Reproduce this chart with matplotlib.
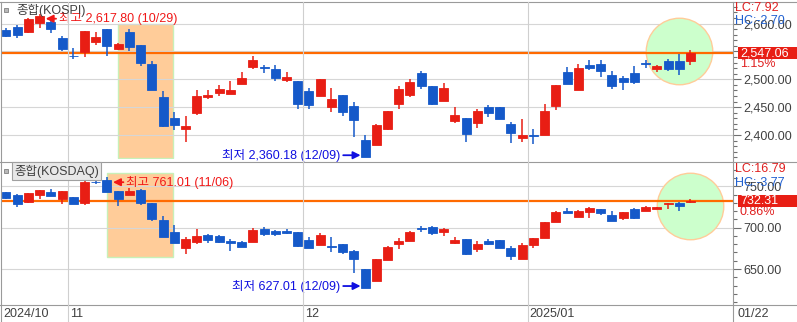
import numpy as np
import matplotlib
matplotlib.use("Agg")
import matplotlib.pyplot as plt
from matplotlib.patches import Rectangle
from matplotlib.lines import Line2D
from matplotlib.ticker import MultipleLocator, FuncFormatter
from matplotlib.transforms import offset_copy

plt.rcParams['font.family'] = ['Liberation Sans', 'Noto Sans CJK KR', 'DejaVu Sans']

# trading days 2024/10/24 .. 2025/01/22
dates = ['2024/10/24', '2024/10/25', '2024/10/28', '2024/10/29', '2024/10/30', '2024/10/31',
         '2024/11/01', '2024/11/04', '2024/11/05', '2024/11/06', '2024/11/07', '2024/11/08',
         '2024/11/11', '2024/11/12', '2024/11/13', '2024/11/14', '2024/11/15', '2024/11/18',
         '2024/11/19', '2024/11/20', '2024/11/21', '2024/11/22', '2024/11/25', '2024/11/26',
         '2024/11/27', '2024/11/28', '2024/11/29',
         '2024/12/02', '2024/12/03', '2024/12/04', '2024/12/05', '2024/12/06', '2024/12/09',
         '2024/12/10', '2024/12/11', '2024/12/12', '2024/12/13', '2024/12/16', '2024/12/17',
         '2024/12/18', '2024/12/19', '2024/12/20', '2024/12/23', '2024/12/24', '2024/12/26',
         '2024/12/27', '2024/12/30',
         '2025/01/02', '2025/01/03', '2025/01/06', '2025/01/07', '2025/01/08', '2025/01/09',
         '2025/01/10', '2025/01/13', '2025/01/14', '2025/01/15', '2025/01/16', '2025/01/17',
         '2025/01/20', '2025/01/21', '2025/01/22']

kospi_open = [2588.6, 2594.0, 2585.6, 2601.8, 2602.4, 2574.3, 2542.5, 2549.7, 2567.7, 2590.4,
              2555.1, 2585.0, 2561.7, 2527.5, 2468.3, 2431.1, 2411.4, 2439.5, 2468.3, 2476.0,
              2474.3, 2492.2, 2522.8, 2521.6, 2518.6, 2499.4, 2497.0, 2479.0, 2470.7, 2450.9,
              2471.9, 2452.1, 2391.0, 2382.6, 2411.4, 2456.3, 2472.5, 2512.0, 2488.0, 2461.7,
              2425.7, 2430.5, 2422.2, 2450.3, 2450.3, 2419.8, 2395.2, 2400.0, 2400.0, 2452.1,
              2513.8, 2480.8, 2525.1, 2527.5, 2507.8, 2502.4, 2511.4, 2529.3, 2519.2, 2532.9,
              2532.9, 2532.9]
kospi_high = [2591.6, 2597.6, 2609.6, 2617.80, 2606.6, 2578.4, 2556.9, 2587.5, 2584.4, 2590.9,
              2565.0, 2589.8, 2562.2, 2532.9, 2479.0, 2440.7, 2434.1, 2480.8, 2480.8, 2489.8,
              2497.6, 2512.6, 2541.9, 2525.1, 2525.7, 2513.2, 2497.5, 2484.4, 2501.0, 2484.4,
              2472.4, 2459.3, 2400.0, 2419.8, 2443.6, 2488.6, 2500.6, 2515.6, 2488.5, 2494.0,
              2450.3, 2431.0, 2447.3, 2454.5, 2450.8, 2423.4, 2429.3, 2410.2, 2455.1, 2490.3,
              2522.8, 2527.5, 2534.7, 2534.7, 2515.0, 2506.0, 2524.6, 2534.1, 2525.7, 2536.5,
              2546.1, 2552.7]
kospi_low = [2576.6, 2574.9, 2583.8, 2592.8, 2583.8, 2550.9, 2535.9, 2540.7, 2561.7, 2542.5,
             2553.0, 2551.5, 2524.6, 2480.2, 2414.4, 2409.0, 2388.0, 2436.5, 2464.7, 2470.1,
             2473.8, 2491.7, 2518.0, 2512.0, 2497.6, 2495.8, 2446.1, 2447.3, 2470.2, 2441.9,
             2434.1, 2397.0, 2360.18, 2382.1, 2409.6, 2447.3, 2468.9, 2483.2, 2454.5, 2461.2,
             2422.2, 2388.0, 2413.2, 2431.7, 2428.1, 2386.2, 2388.0, 2383.8, 2399.5, 2444.9,
             2491.1, 2480.3, 2516.8, 2504.8, 2483.2, 2480.8, 2491.6, 2519.8, 2513.8, 2515.6,
             2507.2, 2526.3]
kospi_close = [2578.4, 2580.2, 2608.4, 2614.4, 2591.0, 2553.9, 2541.9, 2586.8, 2576.0, 2560.5,
               2564.1, 2558.7, 2529.9, 2480.8, 2416.2, 2418.6, 2416.8, 2470.1, 2471.3, 2482.6,
               2480.8, 2502.4, 2534.1, 2519.8, 2503.0, 2504.2, 2455.1, 2454.5, 2500.6, 2464.7,
               2441.9, 2427.5, 2360.58, 2418.6, 2443.1, 2482.6, 2495.2, 2488.6, 2456.3, 2484.4,
               2435.9, 2402.4, 2442.5, 2440.1, 2428.7, 2404.2, 2400.6, 2397.6, 2443.1, 2489.8,
               2491.6, 2520.4, 2520.4, 2515.0, 2488.6, 2495.8, 2495.2, 2528.1, 2524.0, 2519.2,
               2518.03, 2547.06]

kosdaq_open = [742.7, 739.9, 730.6, 739.9, 743.5, 734.7, 736.7, 729.4, 755.8, 757.7,
               744.4, 739.9, 745.6, 729.8, 709.3, 694.8, 675.8, 683.1, 691.1, 689.9,
               684.3, 683.1, 683.1, 698.4, 696.0, 696.4, 694.8, 685.1, 679.4, 677.8,
               680.2, 672.2, 650.0, 635.9, 661.3, 680.6, 684.3, 700.0, 700.8, 695.2,
               681.9, 685.9, 674.6, 684.3, 685.1, 675.4, 662.1, 679.4, 687.5, 707.3,
               720.2, 713.3, 719.4, 722.6, 714.9, 712.1, 722.6, 720.6, 723.0, 728.6,
               730.2, 731.0]
kosdaq_high = [743.1, 740.3, 741.9, 745.6, 746.8, 744.3, 737.1, 756.9, 756.4, 761.01,
               744.8, 748.0, 746.4, 730.2, 714.5, 703.2, 689.1, 698.4, 692.7, 691.1,
               686.7, 683.5, 699.2, 701.2, 697.2, 698.4, 695.2, 688.7, 693.5, 689.1,
               680.6, 672.6, 650.4, 662.5, 677.8, 687.5, 696.4, 702.4, 701.6, 700.0,
               689.1, 686.7, 684.3, 686.7, 685.5, 677.4, 681.5, 687.9, 707.3, 720.2,
               723.4, 721.4, 725.0, 723.0, 720.6, 718.9, 724.2, 726.6, 725.0, 730.2,
               730.6, 734.3]
kosdaq_low = [735.1, 725.4, 730.2, 735.1, 738.3, 728.2, 728.6, 727.8, 753.4, 743.1,
              726.6, 739.5, 727.0, 708.1, 688.7, 681.0, 668.1, 680.6, 681.9, 681.9,
              672.2, 676.2, 682.7, 689.5, 689.5, 692.7, 677.0, 675.4, 679.0, 670.6,
              668.6, 644.8, 627.01, 635.5, 660.9, 674.6, 683.9, 695.2, 691.5, 690.3,
              679.8, 667.3, 670.6, 679.4, 675.0, 661.3, 661.7, 675.8, 687.1, 706.9,
              717.3, 712.5, 712.1, 715.3, 707.7, 709.7, 710.1, 720.2, 722.6, 723.0,
              720.6, 729.4]
kosdaq_close = [735.5, 728.2, 741.5, 745.2, 738.7, 743.9, 729.0, 755.2, 755.0, 743.5,
                734.3, 744.4, 729.4, 710.5, 689.1, 681.9, 685.9, 689.5, 685.5, 683.1,
                681.5, 676.6, 697.2, 692.7, 692.7, 694.0, 677.8, 675.8, 691.1, 677.0,
                671.0, 661.7, 627.5, 662.1, 676.6, 684.3, 694.8, 698.8, 694.0, 698.4,
                685.1, 668.1, 680.2, 679.8, 675.4, 666.1, 679.4, 687.5, 706.9, 719.4,
                717.7, 720.6, 724.2, 718.1, 708.1, 718.5, 711.3, 725.0, 724.6, 729.4,
                726.07, 732.31]

UP = '#e81e14'
DOWN = '#1559c9'
ORANGE = '#ff6a00'
GRID = '#d6d6d6'
FRAME = '#9a9a9a'
TXT = '#404040'

W, H = 797, 322
fig = plt.figure(figsize=(W / 100, H / 100), dpi=100)


def fx(px):
    return px / W


def fy(py):
    return 1 - py / H


def pbox(l, t, r, b):
    return [fx(l), fy(b), (r - l) / W, (b - t) / H]


ax1 = fig.add_axes(pbox(1, 2, 733, 158.5))
ax2 = fig.add_axes(pbox(1, 162, 733, 305))


def py_of(ax, v):
    return H - ax.transData.transform((0, v))[1]


def px_of(ax, i):
    return ax.transData.transform((i, 0))[0]


def candles(ax, o, h, l, c):
    o, h, l, c = map(np.asarray, (o, h, l, c))
    x = np.arange(len(o))
    col = np.where(c >= o, UP, DOWN)
    ax.vlines(x, l, h, colors=col, lw=1.1, zorder=3)
    ax.bar(x, np.abs(c - o), bottom=np.minimum(o, c), width=0.8,
           color=col, edgecolor=col, lw=0.6, zorder=4)


def price_fmt(ax, last):
    # the label under the current-price box is not shown
    def f(v, p):
        if abs(py_of(ax, v) - py_of(ax, last)) < 8:
            return ''
        return f'{v:,.2f}'
    return FuncFormatter(f)


month_starts = [i for i in range(1, len(dates)) if dates[i][:7] != dates[i - 1][:7]]

for ax, o, h, l, c, lims, step in [
        (ax1, kospi_open, kospi_high, kospi_low, kospi_close, (2357.9, 2638.8), 50),
        (ax2, kosdaq_open, kosdaq_high, kosdaq_low, kosdaq_close, (606.5, 779.4), 50)]:
    candles(ax, o, h, l, c)
    ax.set_xlim(-0.4456, 64.79)
    ax.set_ylim(*lims)
    ax.set_xticks([])
    ax.yaxis.tick_right()
    ax.yaxis.set_major_locator(MultipleLocator(step))
    ax.yaxis.set_minor_locator(MultipleLocator(10))
    ax.yaxis.set_major_formatter(price_fmt(ax, c[-1]))
    ax.tick_params(axis='y', which='major', length=6, width=0.8, color='#707070',
                   labelsize=9, labelcolor=TXT, pad=1.5)
    ax.tick_params(axis='y', which='minor', length=3, width=0.8, color='#707070')
    ax.grid(axis='y', color=GRID, lw=0.8, zorder=0)
    for s in ax.spines.values():
        s.set_visible(False)
    ax.axhline(c[-1], color=ORANGE, lw=1.6, zorder=2.5)

# highlight boxes and circles
ax1.add_patch(Rectangle((10, 2357.9), 4.9, 2599 - 2357.9, fc='#ffcc99', ec='#c8f0b8',
                        lw=1, zorder=1.5))
ax2.add_patch(Rectangle((9, 664.5), 5.9, 766 - 664.5, fc='#ffcc99', ec='#c8f0b8',
                        lw=1, zorder=1.5))
ax1.plot([60], [2550.9], marker='o', ms=47.9, mfc='#ccffcc', mec='#ffcc99', mew=1,
         zorder=2, clip_on=False)
ax2.plot([61], [726.8], marker='o', ms=47.9, mfc='#ccffcc', mec='#ffcc99', mew=1,
         zorder=2, clip_on=False)


def mark(ax, o, h, l, c, red='#f01818', blue='#1010e0'):
    hi = int(np.argmax(h))
    lo = int(np.argmin(l))
    ax.annotate(f'최고 {h[hi]:,.2f} ({dates[hi][5:]})', xy=(hi, h[hi]),
                xycoords=offset_copy(ax.transData, fig=fig, x=6, y=-5, units='dots'),
                xytext=(9.5, 0), textcoords='offset points', ha='left', va='center',
                color=red, fontsize=9, zorder=6,
                arrowprops=dict(arrowstyle='-|>', color=red, lw=1.3, shrinkA=0,
                                shrinkB=0, mutation_scale=11))
    ax.annotate(f'최저 {l[lo]:,.2f} ({dates[lo][5:]})', xy=(lo, l[lo]),
                xycoords=offset_copy(ax.transData, fig=fig, x=-4.5, y=2, units='dots'),
                xytext=(-14.5, 0), textcoords='offset points', ha='right', va='center',
                color=blue, fontsize=9, zorder=6,
                arrowprops=dict(arrowstyle='-|>', color=blue, lw=1.3, shrinkA=0,
                                shrinkB=0, mutation_scale=11))


mark(ax1, kospi_open, kospi_high, kospi_low, kospi_close)
mark(ax2, kosdaq_open, kosdaq_high, kosdaq_low, kosdaq_close)


# frame lines
def fline(x0, y0, x1, y1, c=FRAME, lw=0.8):
    fig.add_artist(Line2D([fx(x0), fx(x1)], [fy(y0), fy(y1)], color=c, lw=lw))


fline(0, 2, W, 2)
fline(1, 2, 1, H)
fline(733, 2, 733, H)
fline(0, 162, W, 162)
fline(0, 305, W, 305)
for i in month_starts:
    xb = px_of(ax1, i - 0.5)
    fline(xb, 2, xb, H, c='#cfcfcf')

# right side info
for ax, o, h, l, c, y_lc, y_hc in [
        (ax1, kospi_open, kospi_high, kospi_low, kospi_close, 8, 20.5),
        (ax2, kosdaq_open, kosdaq_high, kosdaq_low, kosdaq_close, 169, 182.5)]:
    last, prev = c[-1], c[-2]
    lc = (last / min(l) - 1) * 100
    hc = (last / max(h) - 1) * 100
    chg = (last / prev - 1) * 100
    fig.text(fx(735), fy(y_lc), f'LC:{lc:.2f}', color='#e02020', fontsize=9, va='center')
    fig.text(fx(735), fy(y_hc), f'HC:{hc:.2f}', color='#2060d0', fontsize=9, va='center')
    yc = py_of(ax, last)
    fig.add_artist(Rectangle((fx(738), fy(yc + 6)), (W - 738) / W, 12 / H,
                             fc='#e81e14', ec='none'))
    fig.text(fx(740), fy(yc), f'{last:,.2f}', color='white', fontsize=9, va='center')
    fig.text(fx(740), fy(yc + 11), f'{chg:.2f}%', color='#e02020', fontsize=9, va='center')

# panel titles
fig.add_artist(Rectangle((fx(4), fy(12)), 4 / W, 4.5 / H, fc='#b8b8b8', ec='#808080', lw=0.6))
fig.text(fx(16), fy(10), '종합(KOSPI)', color=TXT, fontsize=9, va='center')
fig.add_artist(Rectangle((fx(4), fy(173)), 4 / W, 4.5 / H, fc='#b8b8b8', ec='#808080', lw=0.6))
fig.text(fx(14), fy(171), '종합(KOSDAQ)', color=TXT, fontsize=9, va='center',
         bbox=dict(boxstyle='square,pad=0.2', fc='#e8e8e8', ec='#a0a0a0', lw=0.8))

# x labels
fig.text(fx(3), fy(314), dates[0][:7], color=TXT, fontsize=9, va='center')
for i in month_starts:
    xb = px_of(ax1, i - 0.5)
    d = dates[i]
    lab = d[:7] if d[:4] != dates[i - 1][:4] else d[5:7]
    fig.text(fx(xb + 2), fy(314), lab, color=TXT, fontsize=9, va='center')
fig.text(fx(737), fy(314), dates[-1][5:], color=TXT, fontsize=9, va='center')

fig.savefig('out.png', dpi=100)
